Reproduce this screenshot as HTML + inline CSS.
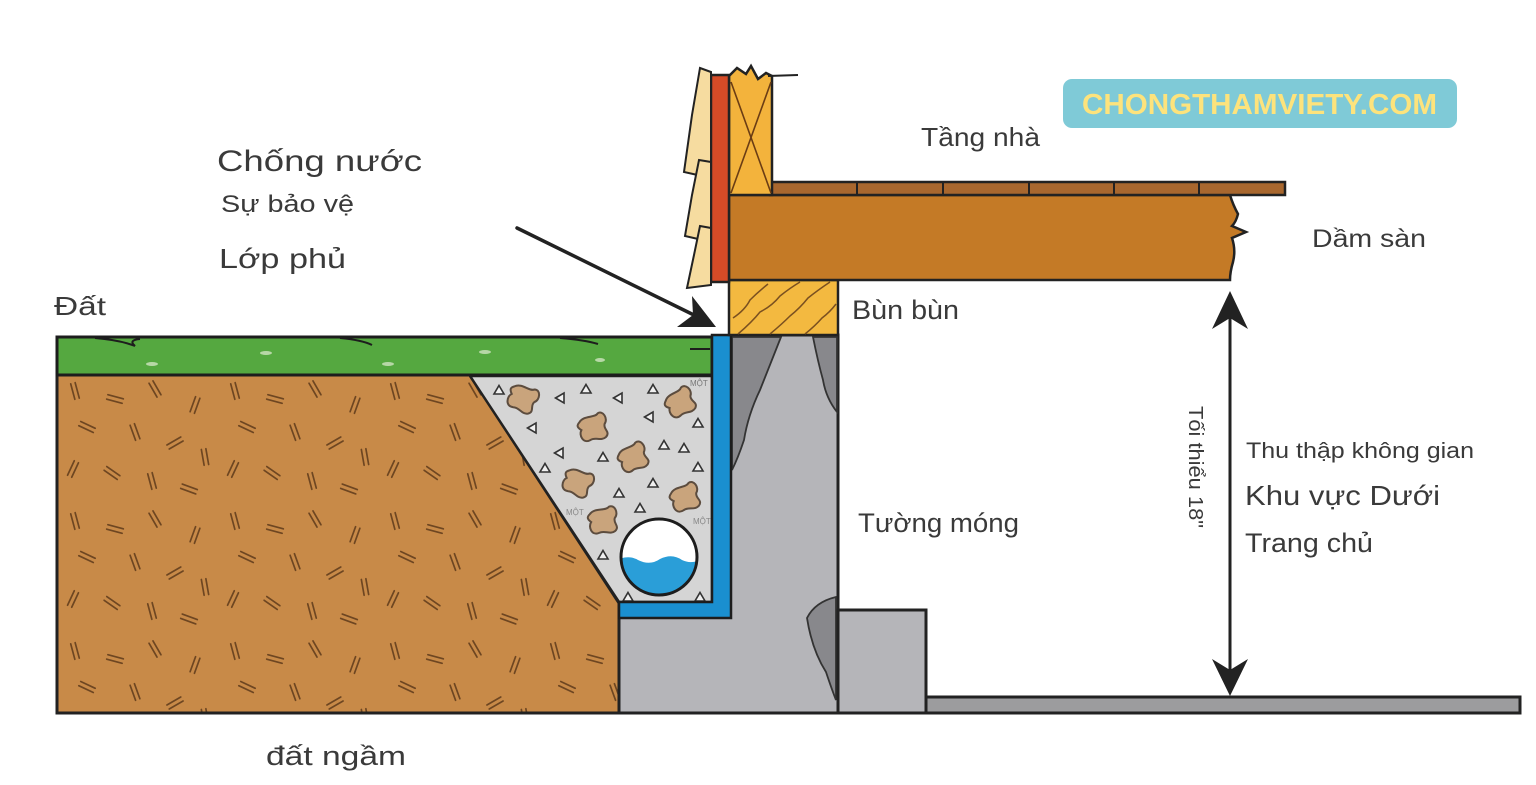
<!DOCTYPE html>
<html><head><meta charset="utf-8"><style>
html,body{margin:0;padding:0;background:#fff;}
svg{display:block;}
text{font-family:"Liberation Sans","DejaVu Sans",sans-serif;fill:#3a3a3a;}
</style></head><body>
<svg width="1536" height="785" viewBox="0 0 1536 785" xmlns="http://www.w3.org/2000/svg">
<defs>
  <g id="hp" stroke="#6e4621" stroke-width="1.7" stroke-linecap="round">
    <line x1="-8" y1="-2.3" x2="8" y2="-2.3"/><line x1="-8" y1="2.3" x2="8" y2="2.3"/>
  </g>
  <pattern id="soilpat" patternUnits="userSpaceOnUse" x="57" y="375" width="160" height="130">
    <rect width="160" height="130" fill="#c88a48"/>
    <use href="#hp" transform="translate(18,16) rotate(75)"/>
    <use href="#hp" transform="translate(58,24) rotate(15)"/>
    <use href="#hp" transform="translate(98,14) rotate(60)"/>
    <use href="#hp" transform="translate(138,30) rotate(110)"/>
    <use href="#hp" transform="translate(30,52) rotate(25)"/>
    <use href="#hp" transform="translate(78,57) rotate(70)"/>
    <use href="#hp" transform="translate(118,68) rotate(-30)"/>
    <use href="#hp" transform="translate(148,82) rotate(80)"/>
    <use href="#hp" transform="translate(16,94) rotate(115)"/>
    <use href="#hp" transform="translate(55,98) rotate(35)"/>
    <use href="#hp" transform="translate(95,106) rotate(75)"/>
    <use href="#hp" transform="translate(132,114) rotate(20)"/>
  </pattern>
  <clipPath id="pipeclip"><circle cx="659" cy="557" r="38"/></clipPath>
  <path id="blob" d="M-12,-8 C-6,-14 4,-8 8,-12 C14,-14 17,-4 12,0 C9,5 16,9 10,13 C4,16 0,10 -6,12 C-14,14 -16,4 -12,0 C-16,-4 -15,-6 -12,-8Z" fill="#c9a47c" stroke="#5c4c3e" stroke-width="2"/>
  <polygon id="tri" points="0,-4.5 5,4 -5,4" fill="#f0f0f0" stroke="#333" stroke-width="1.6"/>
</defs>

<!-- Watermark -->
<rect x="1063" y="79" width="394" height="49" rx="9" fill="#7fcad7"/>
<text x="1082" y="114" font-size="29" font-weight="bold" style="fill:#fde37c" textLength="355" lengthAdjust="spacingAndGlyphs">CHONGTHAMVIETY.COM</text>

<!-- Soil -->
<polygon points="57,375 470,375 619,603 619,713 57,713" fill="url(#soilpat)" stroke="#222" stroke-width="3"/>
<!-- Gravel -->
<polygon points="470,376 712,376 712,602 619,602" fill="#d5d5d5" stroke="#222" stroke-width="2.5"/>
<!-- Grass -->
<rect x="57" y="337" width="655" height="38" fill="#55a840" stroke="#1d1d1d" stroke-width="3"/>
<path d="M95,338 Q120,340 135,346 Q128,340 140,339" stroke="#1d1d1d" stroke-width="2" fill="none"/>
<path d="M340,338 Q362,340 372,345" stroke="#1d1d1d" stroke-width="2" fill="none"/>
<path d="M560,338 Q585,340 598,344" stroke="#1d1d1d" stroke-width="2" fill="none"/>
<path d="M690,349 L710,349" stroke="#1d1d1d" stroke-width="2" fill="none"/>
<g fill="#cfe3c0" opacity="0.8">
<ellipse cx="152" cy="364" rx="6" ry="2"/><ellipse cx="266" cy="353" rx="6" ry="2"/>
<ellipse cx="485" cy="352" rx="6" ry="2"/><ellipse cx="388" cy="364" rx="6" ry="2"/>
<ellipse cx="600" cy="360" rx="5" ry="2"/>
</g>

<!-- Gravel contents -->
<use href="#blob" transform="translate(523,398) rotate(20)"/>
<use href="#blob" transform="translate(593,427) rotate(-15)"/>
<use href="#blob" transform="translate(680,402) rotate(-30)"/>
<use href="#blob" transform="translate(633,457) rotate(-25)"/>
<use href="#blob" transform="translate(578,482) rotate(20)"/>
<use href="#blob" transform="translate(685,497) rotate(-20)"/>
<use href="#blob" transform="translate(603,520) rotate(-10)"/>
<use href="#tri" transform="translate(499,390)"/>
<use href="#tri" transform="translate(560,398) rotate(-90)"/>
<use href="#tri" transform="translate(586,389)"/>
<use href="#tri" transform="translate(618,398) rotate(-90)"/>
<use href="#tri" transform="translate(653,389)"/>
<use href="#tri" transform="translate(532,428) rotate(-90)"/>
<use href="#tri" transform="translate(649,417) rotate(-90)"/>
<use href="#tri" transform="translate(698,423)"/>
<use href="#tri" transform="translate(559,453) rotate(-90)"/>
<use href="#tri" transform="translate(603,457)"/>
<use href="#tri" transform="translate(664,445)"/>
<use href="#tri" transform="translate(684,448)"/>
<use href="#tri" transform="translate(545,468)"/>
<use href="#tri" transform="translate(698,467)"/>
<use href="#tri" transform="translate(619,493)"/>
<use href="#tri" transform="translate(653,483)"/>
<use href="#tri" transform="translate(640,508)"/>
<use href="#tri" transform="translate(603,555)"/>
<use href="#tri" transform="translate(628,597)"/>
<use href="#tri" transform="translate(700,597)"/>
<text x="690" y="386" font-size="8" style="fill:#777">MỘT</text>
<text x="566" y="515" font-size="8" style="fill:#888">MỘT</text>
<text x="693" y="524" font-size="8" style="fill:#888">MỘT</text>

<!-- Pipe -->
<circle cx="659" cy="557" r="38" fill="#fff"/>
<g clip-path="url(#pipeclip)">
  <path d="M615,561 Q628,554 638,560 Q650,566 660,559 Q672,553 682,560 Q692,565 705,558 L705,600 L615,600 Z" fill="#2a9ed8"/>
</g>
<circle cx="659" cy="557" r="38" fill="none" stroke="#1d1d1d" stroke-width="3"/>

<!-- Concrete foundation -->
<polygon points="730,335 838,335 838,713 619,713 619,617 730,617" fill="#b5b5b9" stroke="#222" stroke-width="3"/>
<path d="M732,337 L781,337 Q772,360 760,390 Q748,415 744,440 Q738,458 732,470 Z" fill="#88888c" stroke="#333" stroke-width="1.8"/>
<path d="M813,337 L837,337 L837,412 Q826,398 823,380 Q818,362 813,337 Z" fill="#88888c" stroke="#333" stroke-width="1.8"/>
<path d="M836,597 Q815,602 807,618 Q812,650 826,672 Q832,690 836,700 Z" fill="#88888c" stroke="#333" stroke-width="1.8"/>
<!-- Blue membrane -->
<polygon points="712,335 731,335 731,618 619,618 619,602 712,602" fill="#1a8fd0" stroke="#1d1d1d" stroke-width="2.5"/>
<!-- Footing pad -->
<rect x="838" y="610" width="88" height="103" fill="#b5b5b9" stroke="#222" stroke-width="3"/>
<!-- Slab -->
<rect x="926" y="697" width="594" height="16" fill="#9c9c9e" stroke="#222" stroke-width="3"/>

<!-- Sill plate -->
<rect x="729" y="280" width="109" height="55" fill="#f3b940" stroke="#222" stroke-width="2.5"/>
<g stroke="#7a5020" stroke-width="1.5" fill="none">
  <path d="M733,318 Q745,310 750,300 Q758,292 768,284"/>
  <path d="M738,334 Q752,322 760,312 Q772,306 780,296 Q790,288 800,282"/>
  <path d="M770,334 Q782,324 790,316 Q800,308 808,298 Q818,290 830,282"/>
  <path d="M805,334 Q815,326 822,318 Q830,312 836,304"/>
</g>

<!-- Joist -->
<path d="M729,195 L1230,195 Q1233,205 1238,214 Q1236,222 1232,226 L1246,232 L1232,238 Q1236,250 1233,262 Q1230,272 1230,280 L729,280 Z" fill="#c47a26" stroke="#222" stroke-width="2.5"/>
<!-- Subfloor -->
<rect x="770" y="182" width="515" height="13" fill="#a8672e" stroke="#222" stroke-width="2.5"/>
<g stroke="#222" stroke-width="2">
<line x1="857" y1="182" x2="857" y2="195"/><line x1="943" y1="182" x2="943" y2="195"/>
<line x1="1029" y1="182" x2="1029" y2="195"/><line x1="1114" y1="182" x2="1114" y2="195"/>
<line x1="1199" y1="182" x2="1199" y2="195"/>
</g>
<!-- Stud -->
<path d="M729,76 L737,68 L746,74 L751,66 L758,79 L766,73 L772,76 L772,195 L729,195 Z" fill="#f3b33c" stroke="#222" stroke-width="2.5"/>
<g stroke="#6b3d14" stroke-width="1.6">
<line x1="731" y1="82" x2="771" y2="193"/><line x1="771" y1="82" x2="731" y2="193"/>
</g>
<line x1="768" y1="76" x2="798" y2="75" stroke="#222" stroke-width="2"/>
<!-- Red sheathing -->
<rect x="711" y="75" width="18" height="207" fill="#d54b27" stroke="#222" stroke-width="2.5"/>
<!-- Siding -->
<g fill="#f6dca0" stroke="#222" stroke-width="2">
<path d="M700,68 L711,72 L711,178 L684,172 L692,115 Z"/>
<path d="M699,160 L711,162 L711,242 L685,236 L692,195 Z"/>
<path d="M700,226 L711,228 L711,285 L687,288 L694,255 Z"/>
</g>

<!-- Pointer arrow -->
<line x1="517" y1="228" x2="698" y2="317" stroke="#222" stroke-width="3.5" stroke-linecap="round"/>
<polygon points="716,327 677,327 693,315 692,296" fill="#222"/>

<!-- Dimension arrow -->
<line x1="1230" y1="300" x2="1230" y2="688" stroke="#222" stroke-width="3"/>
<polygon points="1230,291 1248,329 1230,318 1212,329" fill="#222"/>
<polygon points="1230,696 1248,659 1230,670 1212,659" fill="#222"/>

<!-- Labels -->
<text x="217" y="171" font-size="30" textLength="205" lengthAdjust="spacingAndGlyphs">Chống nước</text>
<text x="221" y="212" font-size="24" textLength="133" lengthAdjust="spacingAndGlyphs">Sự bảo vệ</text>
<text x="219" y="268" font-size="28" textLength="127" lengthAdjust="spacingAndGlyphs">Lớp phủ</text>
<text x="54" y="315" font-size="26" textLength="52" lengthAdjust="spacingAndGlyphs">Đất</text>
<text x="921" y="146" font-size="26" textLength="119" lengthAdjust="spacingAndGlyphs">Tầng nhà</text>
<text x="1312" y="247" font-size="25" textLength="114" lengthAdjust="spacingAndGlyphs">Dầm sàn</text>
<text x="852" y="319" font-size="27" textLength="107" lengthAdjust="spacingAndGlyphs">Bùn bùn</text>
<text x="858" y="532" font-size="27" textLength="161" lengthAdjust="spacingAndGlyphs">Tường móng</text>
<text x="1246" y="458" font-size="22" textLength="228" lengthAdjust="spacingAndGlyphs">Thu thập không gian</text>
<text x="1245" y="505" font-size="28" textLength="195" lengthAdjust="spacingAndGlyphs">Khu vực Dưới</text>
<text x="1245" y="552" font-size="27" textLength="128" lengthAdjust="spacingAndGlyphs">Trang chủ</text>
<text transform="translate(1189,406) rotate(90)" font-size="20" textLength="122" lengthAdjust="spacingAndGlyphs">Tối thiểu 18"</text>
<text x="266" y="765" font-size="27" textLength="140" lengthAdjust="spacingAndGlyphs">đất ngầm</text>
</svg>
</body></html>
